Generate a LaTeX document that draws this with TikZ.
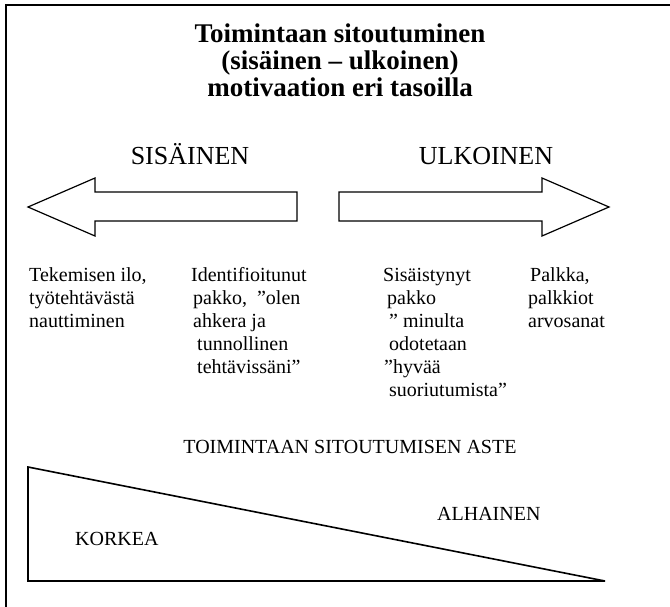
\documentclass[tikz,border=0pt]{standalone}
\usepackage{fontspec}
\setmainfont{Liberation Serif}
\begin{document}
\begin{tikzpicture}[x=1pt,y=-1pt,
  titletext/.style={inner sep=0pt, anchor=base, font=\fontsize{27}{27}\selectfont\bfseries},
  bigtext/.style={inner sep=0pt, anchor=base, font=\fontsize{26}{26}\selectfont},
  bodytext/.style={inner sep=0pt, anchor=base west, font=\fontsize{20}{23}\selectfont},
  arrowshape/.style={draw=black, line width=1.2pt, line join=miter, fill=white},
  wedge/.style={draw=black, line width=1.6pt, line join=miter},
  frameline/.style={draw=black, line width=1.6pt}]
  \useasboundingbox (0,0) rectangle (670,606);
  \begin{scope}
    \clip (0,0) rectangle (670,606);
    \draw[frameline] (6,5) rectangle (700,640);
  \end{scope}

  % heading
  \node[titletext] (title) at (340,42)
    {\begin{tabular}[t]{@{}c@{}}Toimintaan sitoutuminen\\(sisäinen – ulkoinen)\\motivaation eri tasoilla\end{tabular}};

  % direction labels
  \node[bigtext] (inner) at (190,164) {SISÄINEN};
  \node[bigtext] (outer) at (486,164) {ULKOINEN};

  % block arrows
  \draw[arrowshape] (297,192) -- (95,192) -- (95,178) -- (28,207)
    -- (95,236) -- (95,221) -- (297,221) -- cycle;
  \draw[arrowshape] (339,192) -- (542,192) -- (542,178) -- (609,207)
    -- (542,236) -- (542,221) -- (339,221) -- cycle;

  % motivation levels
  \node[bodytext] (joy) at (29,281)
    {\begin{tabular}[t]{@{}l@{}}Tekemisen ilo,\\työtehtävästä\\nauttiminen\end{tabular}};
  \node[bodytext] (ident) at (191,281)
    {\begin{tabular}[t]{@{}l@{}}Identifioitunut\\\hspace{2pt}pakko,\ \ ”olen\\\hspace{2pt}ahkera ja\\\hspace{6pt}tunnollinen\\\hspace{6pt}tehtävissäni”\end{tabular}};
  \node[bodytext] (intro) at (383,281)
    {\begin{tabular}[t]{@{}l@{}}Sisäistynyt\\\hspace{4pt}pakko\\\hspace{6pt}” minulta\\\hspace{6pt}odotetaan\\\hspace{1pt}”hyvää\\\hspace{6pt}suoriutumista”\end{tabular}};
  \node[bodytext] (pay) at (528,281)
    {\begin{tabular}[t]{@{}l@{}}\hspace{2pt}Palkka,\\palkkiot\\arvosanat\end{tabular}};

  % degree of commitment
  \node[inner sep=0pt, anchor=base, font=\fontsize{20}{23}\selectfont] (degree) at (350,453)
    {TOIMINTAAN SITOUTUMISEN ASTE};
  \coordinate (wtop) at (28,467);
  \coordinate (wbl) at (28,581);
  \coordinate (wtip) at (605,581);
  \draw[wedge] (wtop) -- (wbl) -- (wtip) -- cycle;
  \node[bodytext] (high) at (75,545) {KORKEA};
  \node[bodytext] (low) at (437,520) {ALHAINEN};
\end{tikzpicture}
\end{document}
